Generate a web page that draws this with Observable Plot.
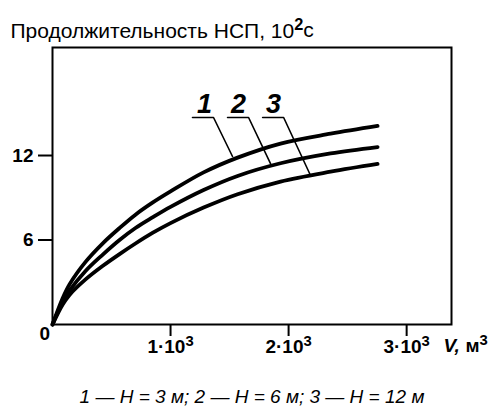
<!DOCTYPE html>
<html><head><meta charset="utf-8">
<script src="https://cdn.jsdelivr.net/npm/d3@7"></script>
<script src="https://cdn.jsdelivr.net/npm/@observablehq/plot@0.6"></script>
<style>
body{margin:0;background:#fff;}
svg{font-family:"Liberation Sans",Arial,sans-serif;}
</style>
</head><body><div id="chart"></div>
<script>
// Volume V, m³
const volume = [0, 85, 144, 280, 424, 568, 703, 847, 1000, 1280, 1568, 1932, 2356, 2754];
// Duration, 10² s
const curve1 = [0, 1.85, 2.85, 4.45, 5.75, 6.85, 7.8, 8.65, 9.45, 10.8, 11.85, 12.85, 13.55, 14.1]; // H = 3 m
const curve2 = [0, 1.6, 2.4, 3.8, 4.95, 6.0, 6.85, 7.6, 8.35, 9.55, 10.55, 11.45, 12.15, 12.6];    // H = 6 m
const curve3 = [0, 1.4, 2.1, 3.2, 4.15, 5.0, 5.75, 6.5, 7.2, 8.3, 9.25, 10.15, 10.85, 11.4];       // H = 12 m
const seriesNames = ["1", "2", "3"];
const xTicks = [1000, 2000, 3000];
const yTicks = [6, 12];
// label leaders (data units)
const labelX = [1288, 1576, 1873];
const labelY = [15.0, 15.0, 15.0];
const leaderStartX = [1186, 1483, 1780];
const leaderBendX = [1364, 1661, 1958];
const leaderY = 14.7;
const leaderEndX = [1525, 1847, 2186];
const leaderEndY = [11.93, 11.43, 10.58];

const curves = [curve1, curve2, curve3];
const lineData = curves.flatMap((c, i) => c.map((v, j) => ({s: seriesNames[i], x: volume[j], y: v})));
const leaderData = seriesNames.flatMap((s, i) => [
  {s, x: leaderStartX[i], y: leaderY},
  {s, x: leaderBendX[i], y: leaderY},
  {s, x: leaderEndX[i], y: leaderEndY[i]}
]);
const labelData = seriesNames.map((s, i) => ({s, x: labelX[i], y: labelY[i]}));

const chart = Plot.plot({
  width: 496, height: 406,
  marginLeft: 52, marginRight: 45, marginTop: 47, marginBottom: 82,
  x: {domain: [0, 3380]},
  y: {domain: [0, 19.67]},
  marks: [
    Plot.frame({strokeWidth: 2}),
    Plot.axisY({ticks: yTicks, tickSize: 14, tickPadding: 5, fontSize: 19, fontWeight: "bold", strokeWidth: 2, label: null}),
    Plot.axisX({ticks: xTicks, tickFormat: d => `${d/1000}·10³`, tickSize: 12, tickPadding: 3, fontSize: 19, fontWeight: "bold", strokeWidth: 2, label: null}),
    Plot.line(leaderData, {x: "x", y: "y", z: "s", stroke: "black", strokeWidth: 1.6}),
    Plot.line(lineData, {x: "x", y: "y", z: "s", stroke: "black", strokeWidth: 3.8, curve: "catmull-rom"}),
    Plot.text(labelData, {x: "x", y: "y", text: "s", fontSize: 27, fontStyle: "italic", fontWeight: "bold", lineAnchor: "bottom"}),
    Plot.text(["Продолжительность НСП, 10²с"], {frameAnchor: "top-left", dx: -42, dy: -10, textAnchor: "start", lineAnchor: "bottom", fontSize: 21}),
    Plot.text(["0"], {frameAnchor: "bottom-left", dx: -13, dy: 15, fontSize: 19, fontWeight: "bold"}),
    Plot.text(["V,"], {frameAnchor: "bottom-right", dx: -8, dy: 27, textAnchor: "start", lineAnchor: "bottom", fontSize: 19, fontStyle: "italic", fontWeight: "bold"}),
    Plot.text(["м³"], {frameAnchor: "bottom-right", dx: 14, dy: 27, textAnchor: "start", lineAnchor: "bottom", fontSize: 19, fontWeight: "bold"}),
    Plot.text(["1 — H = 3 м; 2 — H = 6 м; 3 — H = 12 м"], {frameAnchor: "bottom", dy: 78, lineAnchor: "bottom", fontSize: 19, fontStyle: "italic"})
  ]
});
// render superscript characters as raised tspans (text stays real text)
const supMap = {"²": "2", "³": "3"};
d3.select(chart).selectAll("text").each(function() {
  const el = this;
  if (el.querySelector("tspan")) return;
  const t = el.textContent;
  const m = t.match(/[²³]/);
  if (!m) return;
  const i = m.index;
  const before = t.slice(0, i), sup = supMap[t[i]], after = t.slice(i + 1);
  el.textContent = "";
  const sel = d3.select(el);
  sel.append("tspan").text(before);
  const s = sel.append("tspan").attr("dy", "-0.45em").attr("font-size", "0.78em").text(sup);
  if (t.startsWith("Продолж")) s.attr("font-weight", "bold");
  if (after) sel.append("tspan").attr("dy", "0.35em").text(after);
});
document.getElementById("chart").append(chart);
</script>
</body></html>
